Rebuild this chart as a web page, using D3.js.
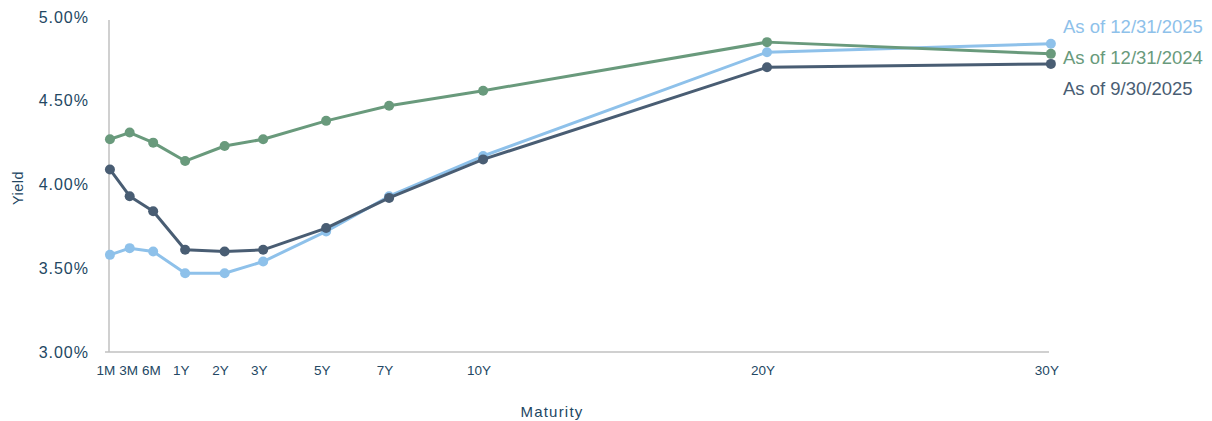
<!DOCTYPE html>
<html>
<head>
<meta charset="utf-8">
<script src="https://cdn.jsdelivr.net/npm/d3@7"></script>
<style>
  html, body { margin: 0; padding: 0; background: #fff; }
  svg { display: block; }
  text { font-family: "Liberation Sans", Arial, sans-serif; }
</style>
</head>
<body>
<svg id="chart" width="1212" height="421"></svg>
<script>
// ---- Data ----
const maturities = ["1M", "3M", "6M", "1Y", "2Y", "3Y", "5Y", "7Y", "10Y", "20Y", "30Y"];
// x-values used by the original chart for each maturity (axis runs 0..100)
const maturityX = [0.1, 2.2, 4.7, 8.1, 12.3, 16.4, 23.1, 29.8, 39.8, 70.0, 100.2];
const yieldTicks = [3.0, 3.5, 4.0, 4.5, 5.0];

const seriesNames = ["As of 12/31/2025", "As of 12/31/2024", "As of 9/30/2025"];
const yieldsDec2025 = [3.58, 3.62, 3.60, 3.47, 3.47, 3.54, 3.72, 3.93, 4.17, 4.79, 4.84];
const yieldsDec2024 = [4.27, 4.31, 4.25, 4.14, 4.23, 4.27, 4.38, 4.47, 4.56, 4.85, 4.78];
const yieldsSep2025 = [4.09, 3.93, 3.84, 3.61, 3.60, 3.61, 3.74, 3.92, 4.15, 4.70, 4.72];
const seriesColors = ["#8ec1ea", "#699a7c", "#495d73"];

// ---- Layout ----
const svg = d3.select("#chart");
const plot = { left: 109, right: 1049, top: 17, bottom: 352 };

const x = d3.scaleLinear().domain([0, 100]).range([plot.left, plot.right]);
const y = d3.scaleLinear().domain([3, 5]).range([plot.bottom, plot.top]);

const axisColor = "#c0c0c0";
const labelColor = "#234763";

// axes lines
svg.append("line")
  .attr("x1", plot.left - 4).attr("x2", plot.right)
  .attr("y1", plot.bottom).attr("y2", plot.bottom)
  .attr("stroke", axisColor).attr("stroke-width", 1.5);
svg.append("line")
  .attr("x1", plot.left).attr("x2", plot.left)
  .attr("y1", plot.top + 3).attr("y2", plot.bottom)
  .attr("stroke", axisColor).attr("stroke-width", 1.5);

// y tick labels
svg.append("g").selectAll("text")
  .data(yieldTicks)
  .join("text")
  .attr("x", 89)
  .attr("y", d => y(d) + 5.7)
  .attr("text-anchor", "end")
  .attr("font-size", 16)
  .attr("letter-spacing", 1)
  .attr("fill", labelColor)
  .text(d => d3.format(".2f")(d) + "%");

// x tick labels (slightly left of the point, pushed apart if they collide)
const xLabels = svg.append("g").selectAll("text")
  .data(maturities)
  .join("text")
  .attr("x", (d, i) => x(maturityX[i]) - 4)
  .attr("y", 375)
  .attr("text-anchor", "middle")
  .attr("font-size", 13.5)
  .attr("fill", labelColor)
  .text(d => d);
let prevRight = -Infinity;
xLabels.each(function () {
  const w = this.getComputedTextLength();
  let cx = +this.getAttribute("x");
  if (cx - w / 2 < prevRight + 4) cx = prevRight + 4 + w / 2;
  this.setAttribute("x", cx);
  prevRight = cx + w / 2;
});

// axis titles
svg.append("text")
  .attr("x", 552).attr("y", 416.5)
  .attr("text-anchor", "middle")
  .attr("font-size", 15)
  .attr("letter-spacing", 1.2)
  .attr("fill", labelColor)
  .text("Maturity");

svg.append("text")
  .attr("transform", "translate(22.5,188) rotate(-90)")
  .attr("text-anchor", "middle")
  .attr("font-size", 14.5)
  .attr("letter-spacing", 0.5)
  .attr("fill", labelColor)
  .text("Yield");

// ---- Series ----
const allSeries = [yieldsDec2025, yieldsDec2024, yieldsSep2025];
const line = d3.line()
  .x((d, i) => x(maturityX[i]))
  .y(d => y(d));

allSeries.forEach((vals, s) => {
  const g = svg.append("g");
  g.append("path")
    .datum(vals)
    .attr("d", line)
    .attr("fill", "none")
    .attr("stroke", seriesColors[s])
    .attr("stroke-width", 3)
    .attr("stroke-linejoin", "round");
  g.selectAll("circle")
    .data(vals)
    .join("circle")
    .attr("cx", (d, i) => x(maturityX[i]))
    .attr("cy", d => y(d))
    .attr("r", 5)
    .attr("fill", seriesColors[s]);
});

// ---- Legend ----
svg.append("g").selectAll("text")
  .data(seriesNames)
  .join("text")
  .attr("x", 1063)
  .attr("y", (d, i) => 32.7 + i * 31.2)
  .attr("font-size", 18.5)
  .attr("fill", (d, i) => seriesColors[i])
  .text(d => d);
</script>
</body>
</html>
